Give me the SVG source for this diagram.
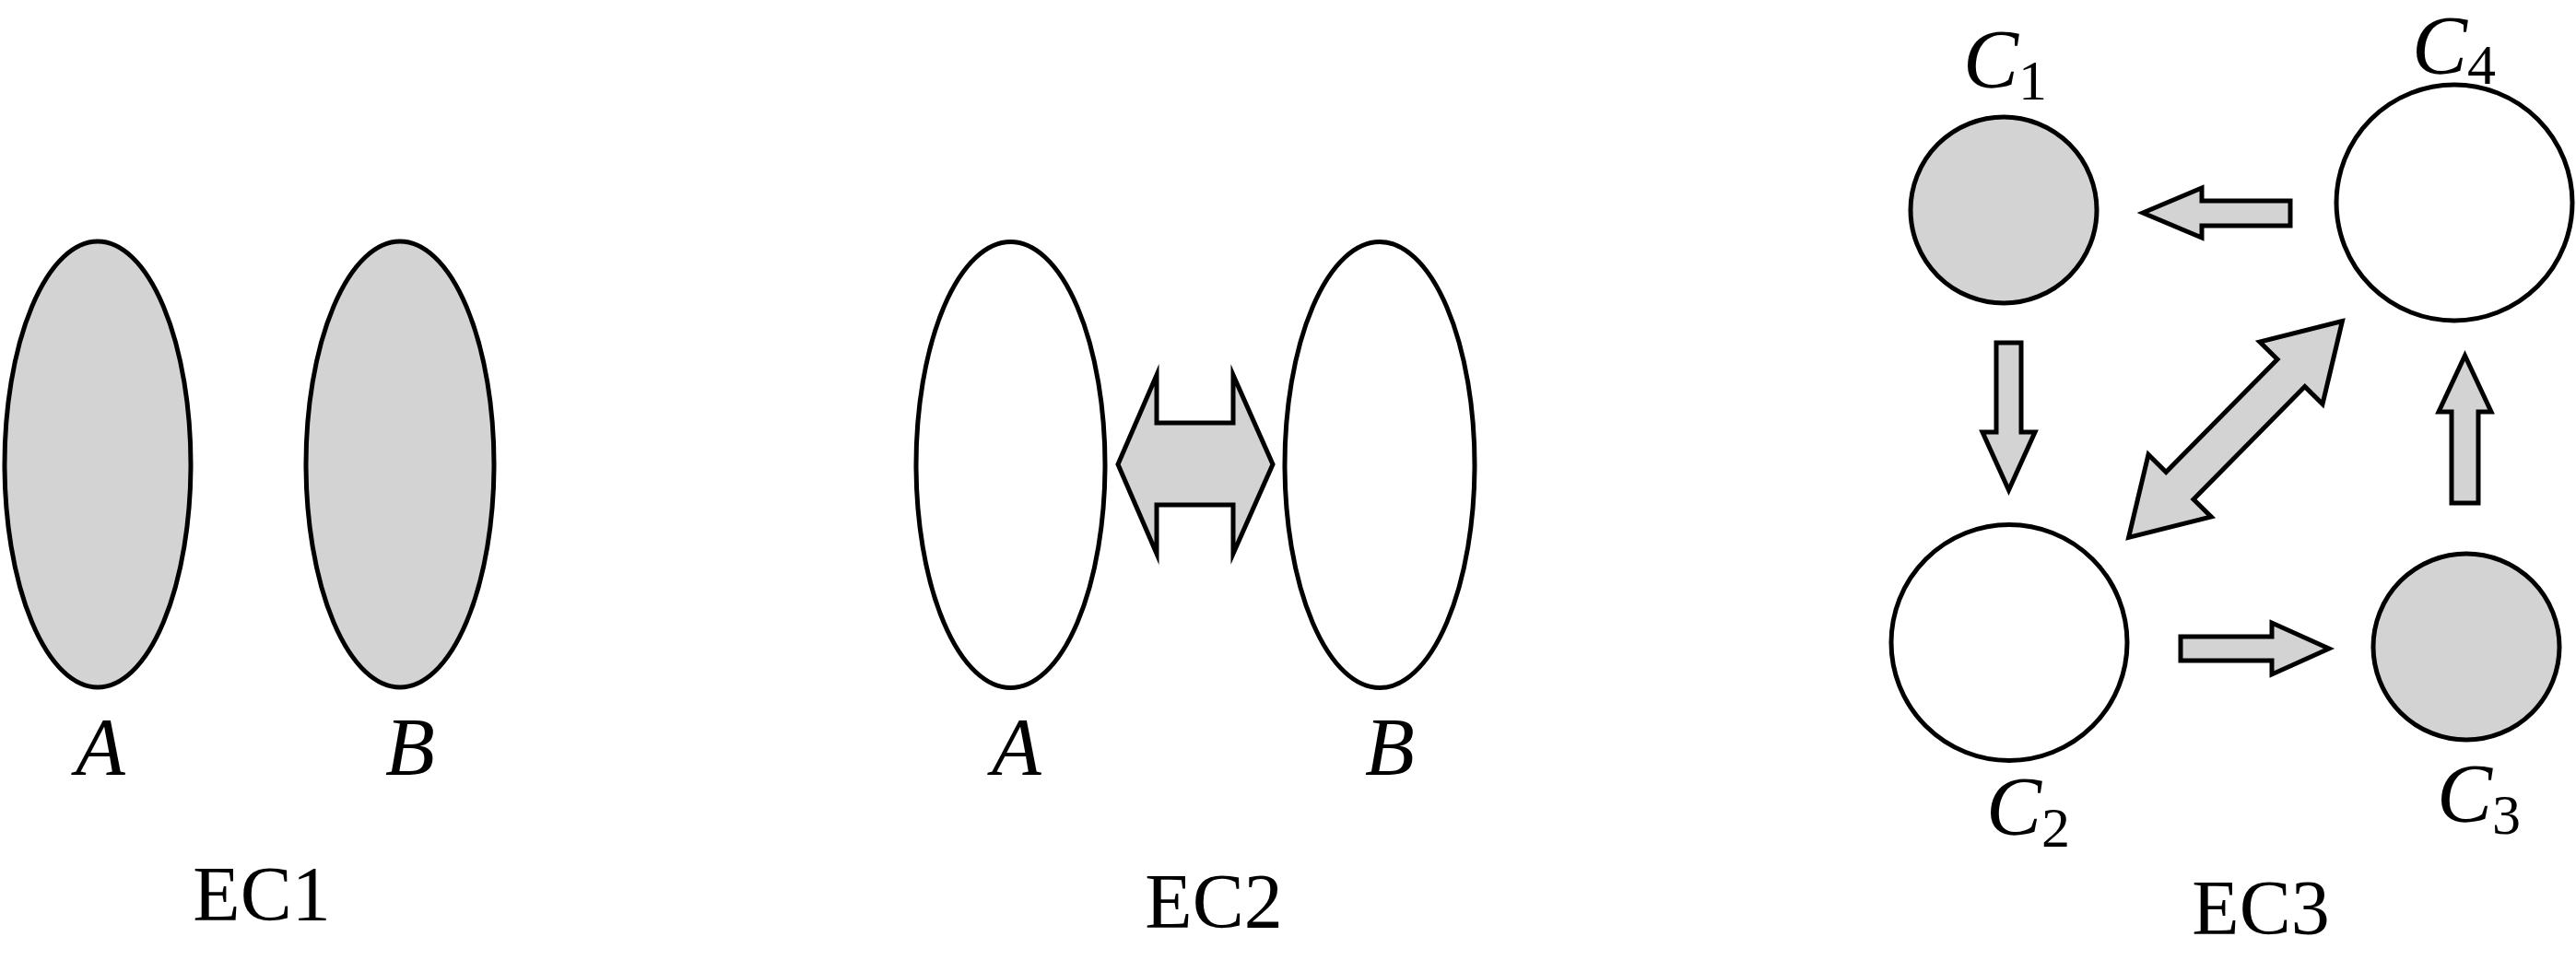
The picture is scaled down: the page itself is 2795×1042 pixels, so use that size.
<svg xmlns="http://www.w3.org/2000/svg" width="2795" height="1042" viewBox="0 0 2795 1042">
<style>
.shape{stroke:#000;stroke-width:5;stroke-linejoin:miter;stroke-miterlimit:10}
.grey{fill:#d3d3d3}
.white{fill:#fff}
.arrow{fill:#d3d3d3;stroke:#000;stroke-width:5;stroke-linejoin:miter;stroke-miterlimit:10}
.math{font-family:"Liberation Serif","DejaVu Serif",serif;font-style:italic;font-size:88px;fill:#000}
.lab{font-family:"Liberation Serif","DejaVu Serif",serif;font-style:italic;font-size:90px;fill:#000}
.sub{font-style:normal;font-size:62px}
.cap{font-family:"Liberation Serif","DejaVu Serif",serif;font-size:84px;fill:#000;text-anchor:middle}
</style>
<rect width="2795" height="1042" fill="#fff"/>

<!-- EC1 -->
<g id="ec1-A">
<ellipse class="shape grey" cx="106" cy="504" rx="101" ry="242"/>
<text class="math" x="109" y="840" text-anchor="middle">A</text>
</g>
<g id="ec1-B">
<ellipse class="shape grey" cx="434" cy="504" rx="102" ry="242"/>
<text class="math" x="445" y="840" text-anchor="middle">B</text>
</g>
<text class="cap" x="284" y="999">EC1</text>

<!-- EC2 -->
<g id="ec2-A">
<ellipse class="shape white" cx="1096.5" cy="504.5" rx="102.5" ry="242"/>
<text class="math" x="1103" y="840" text-anchor="middle">A</text>
</g>
<g id="ec2-B">
<ellipse class="shape white" cx="1497" cy="504.5" rx="103" ry="242"/>
<text class="math" x="1508" y="840" text-anchor="middle">B</text>
</g>
<text class="cap" x="1317" y="1007">EC2</text>

<!-- EC3 nodes -->
<g id="ec3-C1">
<circle class="shape grey" cx="2174" cy="228" r="101"/>
<text class="lab" x="2130" y="95">C<tspan class="sub" dy="13">1</tspan></text>
</g>
<g id="ec3-C4">
<circle class="shape white" cx="2663" cy="220" r="128"/>
<text class="lab" x="2617" y="80">C<tspan class="sub" dy="11">4</tspan></text>
</g>
<g id="ec3-C2">
<circle class="shape white" cx="2180" cy="697.5" r="128"/>
<text class="lab" x="2155" y="906">C<tspan class="sub" dy="13">2</tspan></text>
</g>
<g id="ec3-C3">
<circle class="shape grey" cx="2676" cy="702" r="101"/>
<text class="lab" x="2644" y="892">C<tspan class="sub" dy="13">3</tspan></text>
</g>
<text class="cap" x="2453" y="1014">EC3</text>

<!-- connectors -->
<g id="connectors">
<polygon class="arrow" points="1213,504 1255,407 1255,459 1338,459 1338,407 1381,504 1338,601 1338,548 1255,548 1255,601"/>
<polygon class="arrow" points="2325,231 2389,204 2389,218 2485,218 2485,245 2389,245 2389,258"/>
<polygon class="arrow" points="2166,372 2193,372 2193,469 2208,469 2179.5,532 2151,469 2166,469"/>
<polygon class="arrow" points="2674.5,386 2703,447 2689,447 2689,546 2660,546 2660,447 2646,447"/>
<polygon class="arrow" points="2366,691 2465,691 2465,676 2527,704 2465,732 2465,717 2366,717"/>
<polygon class="arrow" points="2541.4,348.6 2520,438.5 2500.8,419.6 2380,542 2399.2,560.9 2309.6,583.4 2331,493.5 2350.2,512.4 2471,390 2451.8,371.1"/>
</g>
</svg>
